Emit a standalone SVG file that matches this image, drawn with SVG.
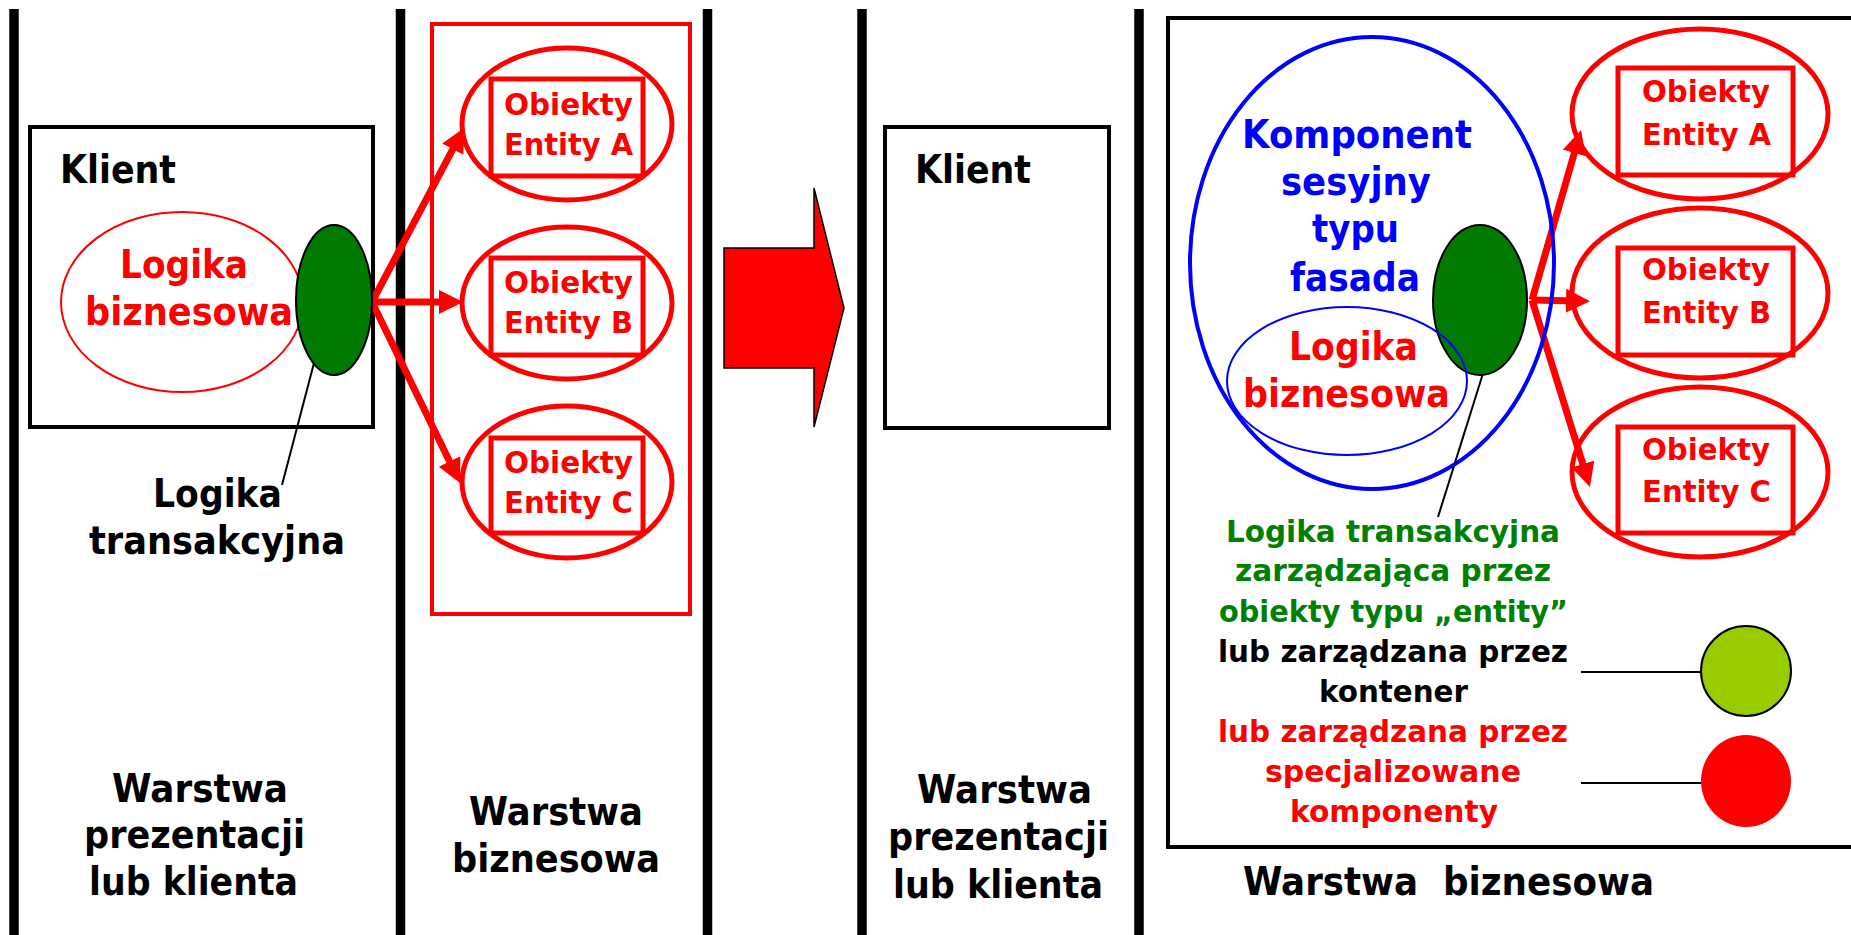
<svg xmlns="http://www.w3.org/2000/svg" width="1851" height="935" viewBox="0 0 1851 935">
<defs>
<style>
text{font-family:"DejaVu Sans","Liberation Sans",sans-serif;font-weight:bold}
.big{font-size:39px}
.mid{font-size:30px}
.k{fill:#000}
.r{fill:#ff0000}
.b{fill:#0000ff}
.g{fill:#008000}
.bar{stroke:#000;stroke-width:9.5}
.box{fill:#fff;stroke:#000;stroke-width:4}
.ent{fill:none;stroke:#ff0000;stroke-width:5}
.arr{stroke:#ff0000;stroke-width:7;fill:none;marker-end:url(#ah)}
.lead{stroke:#000;stroke-width:2;fill:none}
</style>
<marker id="ah" markerUnits="userSpaceOnUse" markerWidth="26" markerHeight="26" refX="12" refY="12" orient="auto">
<path d="M0,0 L24,12 L0,24 z" fill="#ff0000"/>
</marker>
</defs>
<rect width="1851" height="935" fill="#fff"/>

<g id="bars">
<line class="bar" x1="14" y1="9" x2="14" y2="935"/>
<line class="bar" x1="400.5" y1="9" x2="400.5" y2="935"/>
<line class="bar" x1="707.5" y1="9" x2="707.5" y2="935"/>
<line class="bar" x1="862" y1="9" x2="862" y2="935"/>
<line class="bar" x1="1139" y1="9" x2="1139" y2="935"/>
</g>

<g id="klient-left">
<rect class="box" x="30" y="127" width="343" height="300"/>
<text class="big k" x="60" y="183" textLength="116" lengthAdjust="spacingAndGlyphs">Klient</text>
</g>

<g id="logika-left">
<ellipse cx="182" cy="302" rx="121" ry="90" fill="none" stroke="#ff0000" stroke-width="2"/>
<text class="big r" x="120" y="278" textLength="128" lengthAdjust="spacingAndGlyphs">Logika</text>
<text class="big r" x="85" y="325" textLength="208" lengthAdjust="spacingAndGlyphs">biznesowa</text>
</g>

<g id="container-left">
<rect x="432" y="24" width="258" height="590" fill="none" stroke="#ff0000" stroke-width="4"/>
</g>

<g id="entityA-left">
<ellipse class="ent" cx="567" cy="124" rx="105" ry="76"/>
<rect class="ent" x="491" y="79" width="152" height="97"/>
<text class="mid r" x="504" y="115" textLength="129" lengthAdjust="spacingAndGlyphs">Obiekty</text>
<text class="mid r" x="504" y="155" textLength="129" lengthAdjust="spacingAndGlyphs">Entity A</text>
</g>
<g id="entityB-left">
<ellipse class="ent" cx="567" cy="303" rx="105" ry="76"/>
<rect class="ent" x="491" y="258" width="152" height="97"/>
<text class="mid r" x="504" y="293" textLength="129" lengthAdjust="spacingAndGlyphs">Obiekty</text>
<text class="mid r" x="504" y="333" textLength="129" lengthAdjust="spacingAndGlyphs">Entity B</text>
</g>
<g id="entityC-left">
<ellipse class="ent" cx="567" cy="482" rx="105" ry="76"/>
<rect class="ent" x="491" y="438" width="152" height="95"/>
<text class="mid r" x="504" y="473" textLength="129" lengthAdjust="spacingAndGlyphs">Obiekty</text>
<text class="mid r" x="504" y="513" textLength="129" lengthAdjust="spacingAndGlyphs">Entity C</text>
</g>

<g id="connectors">
<line class="arr" x1="372" y1="302" x2="458.4" y2="138.6"/>
<line class="arr" x1="372" y1="302" x2="451" y2="302"/>
<line class="arr" x1="372" y1="302" x2="454.8" y2="472.2"/>
<line class="lead" x1="314" y1="363" x2="282" y2="485"/>
<line class="arr" x1="1532" y1="300" x2="1577.7" y2="141.5"/>
<line class="arr" x1="1532" y1="300" x2="1578" y2="301"/>
<line class="arr" x1="1532" y1="300" x2="1586.4" y2="475.5"/>
<line class="lead" x1="1485" y1="367" x2="1438" y2="517"/>
<line class="lead" x1="1581" y1="672" x2="1701" y2="672"/>
<line class="lead" x1="1581" y1="783" x2="1703" y2="783"/>
</g>

<g id="green-left">
<ellipse cx="334" cy="300" rx="38" ry="75" fill="#007a00" stroke="#000" stroke-width="2"/>
</g>

<g id="label-transakcyjna-left">
<text class="big k" x="153" y="507" textLength="129" lengthAdjust="spacingAndGlyphs">Logika</text>
<text class="big k" x="89" y="554" textLength="256" lengthAdjust="spacingAndGlyphs">transakcyjna</text>
</g>

<g id="label-prezentacji-left">
<text class="big k" x="112" y="802" textLength="176" lengthAdjust="spacingAndGlyphs">Warstwa</text>
<text class="big k" x="84" y="848" textLength="221" lengthAdjust="spacingAndGlyphs">prezentacji</text>
<text class="big k" x="89" y="895" textLength="209" lengthAdjust="spacingAndGlyphs">lub klienta</text>
</g>

<g id="label-biznesowa-mid">
<text class="big k" x="469" y="825" textLength="174" lengthAdjust="spacingAndGlyphs">Warstwa</text>
<text class="big k" x="452" y="872" textLength="208" lengthAdjust="spacingAndGlyphs">biznesowa</text>
</g>

<g id="big-arrow">
<polygon points="724,248 814,248 814,188 844,308 814,427 814,368 724,368" fill="#ff0000" stroke="#000" stroke-width="1.5"/>
</g>

<g id="klient-right">
<rect class="box" x="885" y="127" width="224" height="301"/>
<text class="big k" x="915" y="183" textLength="116" lengthAdjust="spacingAndGlyphs">Klient</text>
</g>

<g id="label-prezentacji-right">
<text class="big k" x="917" y="803" textLength="175" lengthAdjust="spacingAndGlyphs">Warstwa</text>
<text class="big k" x="888" y="850" textLength="221" lengthAdjust="spacingAndGlyphs">prezentacji</text>
<text class="big k" x="893" y="898" textLength="210" lengthAdjust="spacingAndGlyphs">lub klienta</text>
</g>

<g id="business-box-right">
<rect x="1168" y="18" width="700" height="829" fill="none" stroke="#000" stroke-width="4"/>
</g>

<g id="fasada">
<ellipse cx="1372" cy="263" rx="182" ry="226" fill="none" stroke="#0000ff" stroke-width="4"/>
<text class="big b" x="1242" y="148" textLength="230" lengthAdjust="spacingAndGlyphs">Komponent</text>
<text class="big b" x="1281" y="195" textLength="150" lengthAdjust="spacingAndGlyphs">sesyjny</text>
<text class="big b" x="1312" y="242" textLength="87" lengthAdjust="spacingAndGlyphs">typu</text>
<text class="big b" x="1290" y="291" textLength="130" lengthAdjust="spacingAndGlyphs">fasada</text>
</g>

<g id="green-right">
<ellipse cx="1480" cy="300" rx="47" ry="75" fill="#007a00" stroke="#000" stroke-width="2"/>
</g>

<g id="logika-right">
<ellipse cx="1347" cy="381" rx="120" ry="74" fill="none" stroke="#0000ff" stroke-width="2"/>
<text class="big r" x="1289" y="360" textLength="129" lengthAdjust="spacingAndGlyphs">Logika</text>
<text class="big r" x="1243" y="407" textLength="207" lengthAdjust="spacingAndGlyphs">biznesowa</text>
</g>

<g id="entityA-right">
<ellipse class="ent" cx="1700" cy="114" rx="128" ry="85"/>
<rect class="ent" x="1618" y="68" width="175" height="107"/>
<text class="mid r" x="1642" y="102" textLength="128" lengthAdjust="spacingAndGlyphs">Obiekty</text>
<text class="mid r" x="1642" y="145" textLength="129" lengthAdjust="spacingAndGlyphs">Entity A</text>
</g>
<g id="entityB-right">
<ellipse class="ent" cx="1700" cy="293" rx="128" ry="85"/>
<rect class="ent" x="1618" y="248" width="175" height="107"/>
<text class="mid r" x="1642" y="280" textLength="128" lengthAdjust="spacingAndGlyphs">Obiekty</text>
<text class="mid r" x="1642" y="323" textLength="129" lengthAdjust="spacingAndGlyphs">Entity B</text>
</g>
<g id="entityC-right">
<ellipse class="ent" cx="1700" cy="472" rx="128" ry="85"/>
<rect class="ent" x="1618" y="427" width="175" height="106"/>
<text class="mid r" x="1642" y="460" textLength="128" lengthAdjust="spacingAndGlyphs">Obiekty</text>
<text class="mid r" x="1642" y="502" textLength="129" lengthAdjust="spacingAndGlyphs">Entity C</text>
</g>

<g id="legend-text">
<text class="mid g" x="1226" y="542" textLength="334" lengthAdjust="spacingAndGlyphs">Logika transakcyjna</text>
<text class="mid g" x="1235" y="581" textLength="316" lengthAdjust="spacingAndGlyphs">zarządzająca przez</text>
<text class="mid g" x="1219" y="622" textLength="349" lengthAdjust="spacingAndGlyphs">obiekty typu „entity”</text>
<text class="mid k" x="1218" y="662" textLength="350" lengthAdjust="spacingAndGlyphs">lub zarządzana przez</text>
<text class="mid k" x="1319" y="702" textLength="149" lengthAdjust="spacingAndGlyphs">kontener</text>
<text class="mid r" x="1218" y="742" textLength="350" lengthAdjust="spacingAndGlyphs">lub zarządzana przez</text>
<text class="mid r" x="1265" y="782" textLength="256" lengthAdjust="spacingAndGlyphs">specjalizowane</text>
<text class="mid r" x="1290" y="822" textLength="208" lengthAdjust="spacingAndGlyphs">komponenty</text>
</g>

<g id="legend-lime">
<ellipse cx="1746" cy="671" rx="45" ry="45" fill="#99cc00" stroke="#000" stroke-width="2"/>
</g>
<g id="legend-red">
<ellipse cx="1746" cy="781" rx="45" ry="46" fill="#ff0000"/>
</g>

<g id="label-biznesowa-right">
<text class="big k" x="1243" y="895" textLength="411" lengthAdjust="spacingAndGlyphs" xml:space="preserve">Warstwa  biznesowa</text>
</g>
</svg>
